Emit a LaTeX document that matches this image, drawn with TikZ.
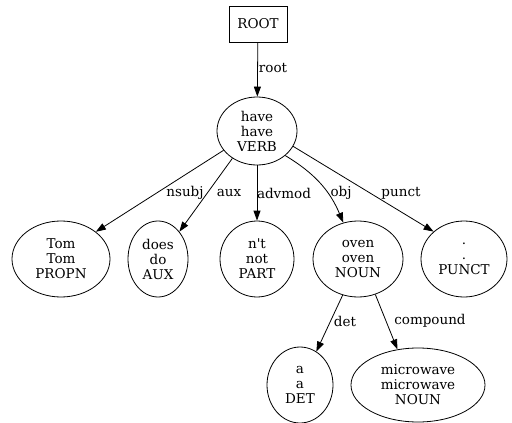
\documentclass[tikz,border=0pt]{standalone}
\usepackage{fontspec}
\setmainfont{DejaVu Serif}
\usetikzlibrary{shapes.geometric,arrows.meta}
\tikzset{
  txt/.style={font=\fontsize{13.5}{15}\selectfont},
  tok/.style={txt, draw, ellipse, inner sep=0pt, line width=0.8pt, align=center},
  rootbox/.style={txt, draw, rectangle, inner sep=0pt, line width=0.8pt,
    minimum width=58pt, minimum height=36pt},
  dep/.style={draw, line width=0.8pt, -{Triangle[length=10pt,width=7pt]}},
  lbl/.style={txt, inner sep=0pt}
}
\begin{document}
\begin{tikzpicture}[x=1pt,y=-1pt]
\useasboundingbox (0,0) rectangle (512,423);
% token nodes
\node[rootbox] (root) at (258,24) {ROOT};
\node[tok, minimum width=80pt, minimum height=68pt] (have) at (257,131) {have\\have\\VERB};
\node[tok, minimum width=98pt, minimum height=76pt] (tom) at (61,259) {Tom\\Tom\\PROPN};
\node[tok, minimum width=60pt, minimum height=76pt] (does) at (158,259) {does\\do\\AUX};
\node[tok, minimum width=74pt, minimum height=76pt] (nt) at (257,259) {n\textquotesingle t\\not\\PART};
\node[tok, minimum width=90pt, minimum height=76pt] (oven) at (358,259) {oven\\oven\\NOUN};
\node[tok, minimum width=86pt, minimum height=76pt] (punct) at (464,259) {.\\.\\PUNCT};
\node[tok, minimum width=66pt, minimum height=76pt] (a) at (300,385) {a\\a\\DET};
\node[tok, minimum width=134pt, minimum height=74pt] (mw) at (418,385) {microwave\\microwave\\NOUN};
% dependency arcs
\draw[dep] (root) -- (have);
\draw[dep] (have.210) -- (tom.38);
\draw[dep] (have.228) -- (does.52);
\draw[dep] (have.270) -- (nt.90);
\draw[dep] (have.319) to[bend left=18] (oven.112);
\draw[dep] (have.337) -- (punct.138);
\draw[dep] (oven.247) -- (a.64);
\draw[dep] (oven.296) -- (mw.120);
% arc labels
\node[lbl] (l-root) at (273,68) {root};
\node[lbl] (l-nsubj) at (185,193) {nsubj};
\node[lbl] (l-aux) at (229,193) {aux};
\node[lbl] (l-advmod) at (284,193) {advmod};
\node[lbl] (l-obj) at (341,193) {obj};
\node[lbl] (l-punct) at (401,193) {punct};
\node[lbl] (l-det) at (345,321) {det};
\node[lbl] (l-compound) at (430,321) {compound};
\end{tikzpicture}
\end{document}
